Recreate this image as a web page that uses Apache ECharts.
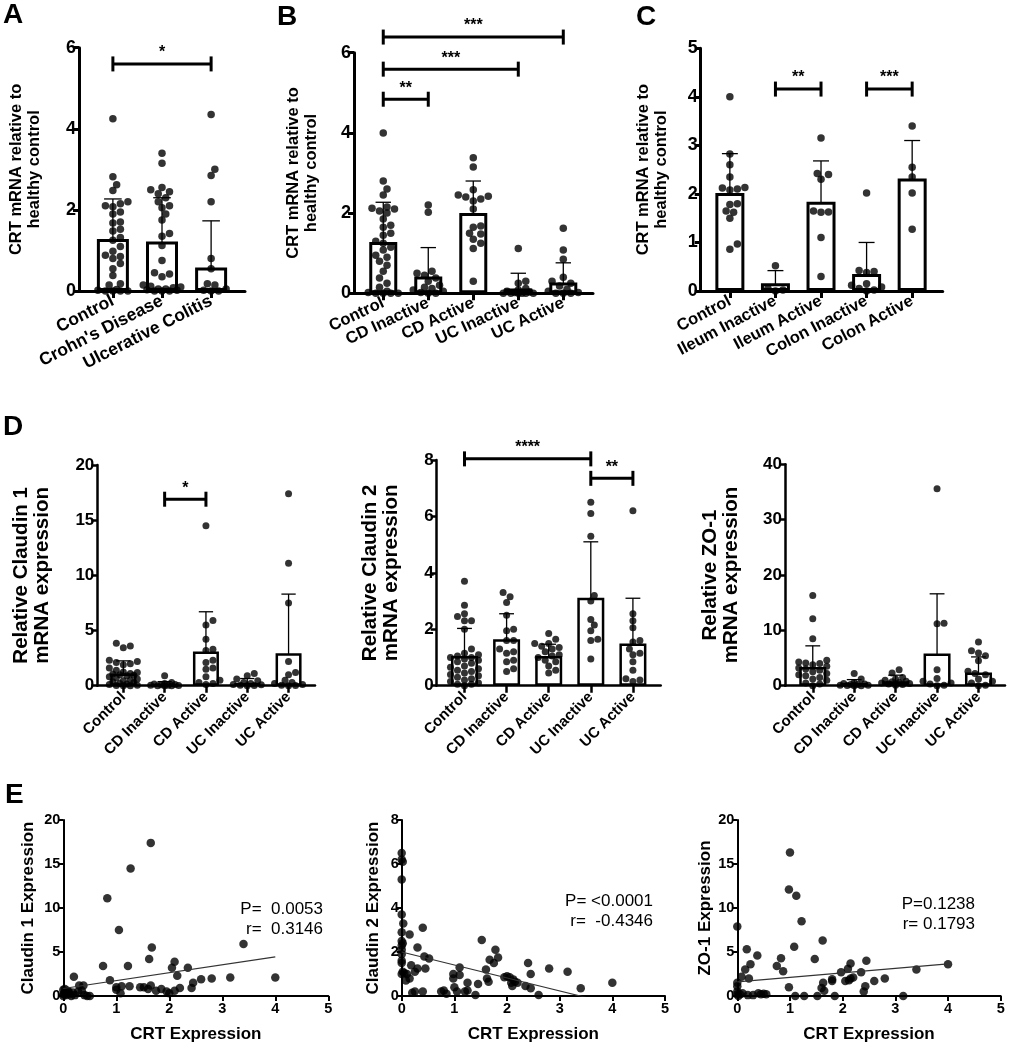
<!DOCTYPE html>
<html><head><meta charset="utf-8">
<script src="https://cdn.jsdelivr.net/npm/echarts@6/dist/echarts.min.js"></script>
<style>html,body{margin:0;padding:0;background:#fff}#c{width:1013px;height:1050px}</style>
</head><body><div id="c"></div>
<script>
// ---------------- DATA ----------------
const catsA = ['Control', "Crohn's Disease", 'Ulcerative Colitis'];
const catsB = ['Control', 'CD Inactive', 'CD Active', 'UC Inactive', 'UC Active'];
const catsC = ['Control', 'Ileum Inactive', 'Ileum Active', 'Colon Inactive', 'Colon Active'];
const catsD = ['Control', 'CD Inactive', 'CD Active', 'UC Inactive', 'UC Active'];

const aControl = [4.25,2.82,2.62,2.48,2.2,2.15,2.1,2.08,1.95,1.9,1.7,1.68,1.52,1.48,1.32,1.25,1.1,0.98,0.88,0.85,0.8,0.68,0.55,0.38,0.18,0.15,0.04,0.02,0,0,0,0];
const aCrohn = [3.4,3.15,2.55,2.5,2.45,2.4,2.3,2.2,2.1,2.05,1.9,1.75,1.42,1.35,1.12,0.75,0.45,0.42,0.35,0.15,0.12,0.1,0.08,0.05,0.05,0.03,0.02,0,0,0];
const aUC = [4.35,3.0,2.85,2.2,0.8,0.55,0.18,0.15,0.05,0.02,0,0];
const aMeans = [1.28,1.22,0.58];
const aSD = [0.99,1.08,1.15];
const aBrackets = [[1,3,5.6]];
const aStars = ['*'];

const bControl = [4.0,2.8,2.6,2.45,2.15,2.12,2.1,2.05,2.0,1.85,1.7,1.65,1.5,1.45,1.3,1.25,1.15,1.08,0.95,0.9,0.8,0.7,0.55,0.38,0.25,0.15,0.05,0.02,0,0,0,0];
const bCDi = [2.2,2.02,0.55,0.5,0.45,0.38,0.3,0.2,0.15,0.12,0.08,0.05,0.02,0,0];
const bCDa = [3.38,3.15,2.58,2.45,2.42,2.4,2.35,2.3,2.1,1.68,1.65,1.5,1.48,1.35,1.25,1.12,0.3];
const bUCi = [1.12,0.3,0.25,0.12,0.08,0.05,0.03,0.02,0,0,0,0,0,0];
const bUCa = [1.62,1.08,0.85,0.4,0.3,0.25,0.18,0.1,0.05,0.02,0,0,0];
const bMeans = [1.28,0.42,2.0,0.12,0.27];
const bSD = [0.99,0.72,0.8,0.38,0.49];
const bBrackets = [[1,5,6.39],[1,4,5.59],[1,2,4.84]];
const bStars = ['***','***','**'];

const cControl = [4.0,2.82,2.6,2.35,2.13,2.12,2.1,2.08,1.8,1.78,1.65,1.62,1.5,0.97,0.86];
const cIleumI = [0.52,0.05,0.02,0];
const cIleumA = [3.15,2.42,2.4,2.3,1.65,1.63,1.62,1.1,0.3];
const cColonI = [2.02,0.42,0.4,0.38,0.15,0.12,0.08,0.05,0.02,0];
const cColonA = [3.4,2.55,2.35,2.02,1.27];
const cMeans = [2.02,0.16,1.84,0.35,2.32];
const cSD = [0.81,0.26,0.84,0.65,0.78];
const cBrackets = [[2,3,4.16],[4,5,4.16]];
const cStars = ['**','***'];

const d1Control = [3.85,3.6,3.45,2.3,2.2,2.1,2.0,1.9,1.6,1.4,1.25,1.2,1.1,1.05,1.0,0.95,0.9,0.8,0.7,0.6,0.5,0.45,0.35,0.3,0.2,0.15,0.1,0.05,0.02,0,0];
const d1CDi = [0.9,0.3,0.2,0.15,0.1,0.08,0.05,0.03,0.02,0,0,0];
const d1CDa = [14.5,5.9,5.5,4.2,3.3,3.2,2.3,2.1,1.6,1.5,0.8,0.5,0.3,0.2,0.1];
const d1UCi = [1.1,0.9,0.6,0.45,0.3,0.2,0.12,0.08,0.05,0.02,0];
const d1UCa = [17.4,11.1,7.5,2.2,1.2,1.0,0.5,0.3,0.2,0.1,0.05,0.02,0];
const d1Means = [1.1,0.12,3.1,0.25,2.95];
const d1SD = [1.15,0.25,3.6,0.4,5.35];
const d1Brackets = [[2,3,16.9]];
const d1Stars = ['*'];

const d2Control = [3.7,2.85,2.55,2.45,2.3,2.3,2.0,1.3,1.15,1.1,1.05,1.0,1.0,0.95,0.9,0.85,0.8,0.7,0.65,0.6,0.55,0.5,0.45,0.4,0.35,0.3,0.25,0.2,0.15,0.1,0.05,0.05,0];
const d2CDi = [3.3,3.15,2.95,2.5,2.0,1.95,1.6,1.6,1.3,1.2,1.15,0.9,0.85,0.6,0.5];
const d2CDa = [1.85,1.65,1.5,1.5,1.4,1.35,1.3,1.2,1.1,1.05,1.0,0.9,0.85,0.7,0.55,0.45];
const d2UCi = [6.5,6.1,5.3,3.2,3.0,2.35,2.15,1.95,1.65,1.6,0.95];
const d2UCa = [6.2,2.55,2.3,2.05,1.6,1.55,1.3,1.15,1.1,0.85,0.55,0.25,0.2,0.15];
const d2Means = [1.05,1.65,1.05,3.12,1.5];
const d2SD = [0.98,0.9,0.42,1.98,1.6];
const d2Brackets = [[1,4,8.04],[4,5,7.35]];
const d2Stars = ['****','**'];

const d3Control = [16.3,12.1,8.5,4.6,4.3,4.1,4.0,3.8,3.5,3.2,3.0,2.8,2.5,2.2,2.0,1.8,1.5,1.2,1.0,0.5,0.3,0];
const d3CDi = [2.2,1.2,0.6,0.4,0.3,0.2,0.2,0.1,0.1,0.05,0,0];
const d3CDa = [2.9,2.3,1.5,1.2,1.0,0.8,0.7,0.6,0.5,0.4,0.3,0.2,0.1];
const d3UCi = [35.6,11.3,11.2,2.9,1.3,0.8,0.5,0.3,0.1,0];
const d3UCa = [7.9,6.3,5.9,5.4,4.5,2.6,2.2,2.0,1.2,0.8,0.5,0.1,0];
const d3Means = [3.4,0.5,0.8,5.8,2.4];
const d3SD = [3.8,0.6,1.1,10.8,2.8];

const e1Points = [[1.65,17.4],[1.27,14.5],[0.83,11.1],[1.05,7.5],[3.4,5.9],[1.67,5.5],[1.62,4.2],[0.75,3.4],[1.22,3.4],[2.1,3.9],[2.05,3.2],[2.35,3.2],[2.15,2.3],[0.2,2.2],[0.88,1.8],[2.6,1.9],[2.8,2.0],[3.15,2.1],[4.0,2.1],[2.45,1.5],[2.42,0.9],[0.3,1.2],[0.38,1.2],[0.35,0.6],[1.0,1.0],[1.0,0.7],[1.1,1.1],[1.08,0.3],[1.25,1.1],[1.45,1.0],[1.52,1.0],[1.6,0.8],[1.65,1.2],[1.75,0.6],[1.85,0.8],[1.95,0.5],[2.0,0.3],[2.1,0.6],[2.2,0.9],[0,0.7],[0.02,0.3],[0.05,0.1],[0.08,0.6],[0.1,0.5],[0.12,0.2],[0.15,0.0],[0.18,0.4],[0.22,0.1],[0.28,0.5],[0.4,0.1],[0.45,0.0],[0.5,0.0],[0,0],[0.03,0.8],[0,0.2]];
const e2Points = [[0,6.5],[0,6.2],[0.02,6.1],[0,5.3],[0,3.7],[0.03,3.3],[0,2.9],[0,2.5],[0,2.3],[0.02,2.4],[0,2.1],[0,1.9],[0,1.6],[0,1.5],[0.02,1.1],[0,1.0],[0.05,1.05],[0.1,1.0],[0.08,0.7],[0.15,0.8],[0.15,2.8],[0.18,1.4],[0.3,2.2],[0.25,1.1],[0.3,1.25],[0.2,0.15],[0.25,0.2],[0.4,3.1],[0.43,1.8],[0.45,1.25],[0.52,1.7],[0.4,0.2],[0.75,0.2],[0.8,0.25],[0.85,0.1],[0.98,1.0],[0.98,0.8],[1.0,0.4],[1.05,0.2],[1.1,1.3],[1.1,0.95],[1.2,0.2],[1.25,0.25],[1.25,0.6],[1.4,0.05],[1.45,0.55],[1.52,2.55],[1.6,1.2],[1.62,0.8],[1.65,0.65],[1.67,1.65],[1.75,1.5],[1.78,2.1],[1.83,1.75],[1.95,0.85],[2.0,0.9],[2.05,0.85],[2.08,0.6],[2.1,0.45],[2.12,0.75],[2.15,0.65],[2.2,0.6],[2.35,0.45],[2.4,1.5],[2.45,1.0],[2.45,0.35],[2.6,0.05],[2.8,1.25],[3.15,1.1],[3.4,0.35],[4.0,0.6]];
const e3Points = [[0,7.9],[0,1.5],[0,1.1],[0,0.5],[0,0.2],[0.02,0],[0.05,0.2],[0.08,2.2],[0.1,0.3],[0.15,3.0],[0.18,5.3],[0.2,0.1],[0.22,2.0],[0.25,3.6],[0.3,0.1],[0.38,4.6],[0.4,0.3],[0.45,0.2],[0.5,0.25],[0.55,0.2],[0.75,3.4],[0.83,4.3],[0.87,2.8],[0.98,1.0],[1.0,16.3],[0.98,12.1],[1.08,5.6],[1.12,11.4],[1.1,0],[1.22,8.5],[1.27,0],[1.47,4.2],[1.52,0],[1.6,0.9],[1.62,6.3],[1.63,1.5],[1.65,0.6],[1.8,1.9],[1.85,0],[1.8,1.7],[1.97,2.7],[2.05,1.7],[2.1,3.1],[2.12,1.8],[2.15,3.7],[2.15,2.0],[2.2,2.1],[2.35,2.7],[2.4,0.5],[2.43,1.1],[2.45,4.0],[2.6,1.7],[2.8,2.0],[3.15,0],[3.4,3.0],[4.0,3.6]];
const e1Reg = [[0,0.85],[4,4.45]];
const e2Reg = [[0,2.0],[4,-0.36]];
const e3Reg = [[0,1.6],[4,3.65]];
const e1Stats = ['P=  0.0053','r=  0.3146'];
const e2Stats = ['P= <0.0001','r=  -0.4346'];
const e3Stats = ['P=0.1238','r= 0.1793'];
const panelLetters = ['A','B','C','D','E'];

// ---------------- BUILD ----------------
const FONT = '"Liberation Sans", Arial, sans-serif';
const grids = [], xAxes = [], yAxes = [], series = [], graphics = [];

function swarm(vals, xc, pxX, pxY, d, halfW) {
  const sorted = vals.slice().sort((a, b) => a - b);
  const placed = [], out = [];
  const step = d * 0.5;
  const nmax = Math.max(1, Math.floor(halfW / step));
  for (const v of sorted) {
    const py = v * pxY;
    let chosen = null, bestOff = 0, bestDist = -1;
    for (let k = 0; k <= 2 * nmax; k++) {
      const off = (k === 0 ? 0 : (k % 2 === 1 ? 1 : -1) * Math.ceil(k / 2)) * step;
      let md = Infinity;
      for (const q of placed) { const dd = Math.hypot(q[0] - off, q[1] - py); if (dd < md) md = dd; }
      if (md >= d * 0.9) { chosen = off; break; }
      if (md > bestDist) { bestDist = md; bestOff = off; }
    }
    if (chosen === null) chosen = bestOff;
    placed.push([chosen, py]);
    out.push([xc + chosen / pxX, v]);
  }
  return out;
}

function errRender(capW, lw) {
  return function (params, api) {
    const x = api.value(0), m = api.value(1), s = api.value(2);
    const top = api.coord([x, m + s]);
    const lo = Math.max(0, m - s);
    const bot = api.coord([x, lo]);
    const st = { stroke: '#000', lineWidth: lw };
    const ch = [
      { type: 'line', shape: { x1: top[0], y1: top[1], x2: bot[0], y2: bot[1] }, style: st },
      { type: 'line', shape: { x1: top[0] - capW / 2, y1: top[1], x2: top[0] + capW / 2, y2: top[1] }, style: st }
    ];
    if (m - s > 0) ch.push({ type: 'line', shape: { x1: bot[0] - capW / 2, y1: bot[1], x2: bot[0] + capW / 2, y2: bot[1] }, style: st });
    return { type: 'group', children: ch };
  };
}

function bracketRender(labels, starFont) {
  return function (params, api) {
    const a = api.coord([api.value(0), api.value(2)]);
    const b = api.coord([api.value(1), api.value(2)]);
    const h = 7.5;
    const st = { stroke: '#000', lineWidth: 3 };
    return {
      type: 'group', children: [
        { type: 'line', shape: { x1: a[0], y1: a[1], x2: b[0], y2: b[1] }, style: st },
        { type: 'line', shape: { x1: a[0], y1: a[1] - h, x2: a[0], y2: a[1] + h }, style: st },
        { type: 'line', shape: { x1: b[0], y1: b[1] - h, x2: b[0], y2: b[1] + h }, style: st },
        { type: 'text', x: (a[0] + b[0]) / 2, y: a[1] - 3, style: { text: labels[params.dataIndex], font: starFont, fill: '#000', align: 'center', verticalAlign: 'bottom', textAlign: 'center', textVerticalAlign: 'bottom' } }
      ]
    };
  };
}

function addBarPanel(p) {
  const gi = grids.length;
  grids.push({ left: p.grid[0], top: p.grid[1], width: p.grid[2], height: p.grid[3] });
  const idx = p.cats.map((c, i) => i + 1);
  const ls = { color: '#000', width: p.aw };
  xAxes.push({
    gridIndex: gi, type: 'value', min: p.xr[0], max: p.xr[1], splitLine: { show: false },
    axisLine: { show: true, onZero: false, lineStyle: ls },
    axisTick: { show: true, customValues: idx, length: 7, lineStyle: ls },
    axisLabel: { customValues: idx, formatter: v => p.cats[Math.round(v) - 1], rotate: p.rot, color: '#000', fontFamily: FONT, fontWeight: 'bold', fontSize: p.lf, margin: 9 }
  });
  yAxes.push({
    gridIndex: gi, type: 'value', min: 0, max: p.ymax, interval: p.yint, splitLine: { show: false },
    axisLine: { show: true, lineStyle: ls }, axisTick: { show: true, length: 6, lineStyle: ls },
    axisLabel: { color: '#000', fontFamily: FONT, fontWeight: 'bold', fontSize: p.tf, margin: 3 },
    name: p.name, nameLocation: 'middle', nameGap: p.ng, nameRotate: 90,
    nameTextStyle: { color: '#000', fontFamily: FONT, fontWeight: 'bold', fontSize: p.nf, lineHeight: p.nlh }
  });
  series.push({ type: 'bar', xAxisIndex: gi, yAxisIndex: gi, data: idx.map((x, i) => [x, p.means[i]]), barWidth: p.bw,
    itemStyle: { color: '#fff', borderColor: '#000', borderWidth: p.bb }, silent: true });
  series.push({ type: 'custom', xAxisIndex: gi, yAxisIndex: gi, clip: false, renderItem: errRender(p.bw * 0.55, 1.3),
    data: idx.map((x, i) => [x, p.means[i], p.sds[i]]), encode: { x: 0, y: 1 }, silent: true });
  const pxX = p.grid[2] / (p.xr[1] - p.xr[0]), pxY = p.grid[3] / p.ymax;
  const pts = [];
  p.pts.forEach((arr, i) => swarm(arr, i + 1, pxX, pxY, p.ds, p.bw * 0.62).forEach(q => pts.push(q)));
  series.push({ type: 'scatter', xAxisIndex: gi, yAxisIndex: gi, data: pts, symbolSize: p.ds, itemStyle: { color: '#000' }, clip: false, silent: true });
  if (p.br) series.push({ type: 'custom', xAxisIndex: gi, yAxisIndex: gi, clip: false, renderItem: bracketRender(p.stars, 'bold 16px ' + FONT),
    data: p.br, encode: { x: [0, 1], y: 2 }, silent: true });
}

function addScatterPanel(p) {
  const gi = grids.length;
  grids.push({ left: p.grid[0], top: p.grid[1], width: p.grid[2], height: p.grid[3] });
  const ls = { color: '#000', width: 2 };
  xAxes.push({
    gridIndex: gi, type: 'value', min: 0, max: 5, interval: 1, splitLine: { show: false },
    axisLine: { show: true, onZero: false, lineStyle: ls }, axisTick: { show: true, length: 5, lineStyle: ls },
    axisLabel: { color: '#000', fontFamily: FONT, fontWeight: 'bold', fontSize: 14.5, margin: 5 },
    name: 'CRT Expression', nameLocation: 'middle', nameGap: 30,
    nameTextStyle: { color: '#000', fontFamily: FONT, fontWeight: 'bold', fontSize: 17 }
  });
  yAxes.push({
    gridIndex: gi, type: 'value', min: 0, max: p.ymax, interval: p.yint, splitLine: { show: false },
    axisLine: { show: true, lineStyle: ls }, axisTick: { show: true, length: 5, lineStyle: ls },
    axisLabel: { color: '#000', fontFamily: FONT, fontWeight: 'bold', fontSize: 14.5, margin: 3 },
    name: p.name, nameLocation: 'middle', nameGap: p.ng, nameRotate: 90,
    nameTextStyle: { color: '#000', fontFamily: FONT, fontWeight: 'bold', fontSize: 17 }
  });
  series.push({ type: 'line', xAxisIndex: gi, yAxisIndex: gi, data: p.reg, symbol: 'none', clip: true,
    lineStyle: { color: '#333', width: 1.1 }, silent: true, z: 3 });
  series.push({ type: 'scatter', xAxisIndex: gi, yAxisIndex: gi, data: p.pts, symbolSize: 8.5, itemStyle: { color: '#000' }, clip: false, silent: true, z: 2 });
  graphics.push({ type: 'text', x: p.statPos[0], y: p.statPos[1],
    style: { text: p.stats.join('\n'), font: '17px ' + FONT, fill: '#000', lineHeight: 20, align: 'right', verticalAlign: 'top', textAlign: 'right', textVerticalAlign: 'top' } });
}

addBarPanel({ grid: [79, 47.7, 166, 243.3], xr: [0.31, 3.69], ymax: 6, yint: 2, cats: catsA,
  pts: [aControl, aCrohn, aUC], means: aMeans, sds: aSD, br: aBrackets, stars: aStars,
  bw: 32, bb: 3, aw: 3, ds: 7.5, rot: 27, lf: 17.5, tf: 18, nf: 16.5, nlh: 18, ng: 36,
  name: 'CRT mRNA relative to\nhealthy control' });
addBarPanel({ grid: [354, 52.7, 239, 240.6], xr: [0.35, 5.66], ymax: 6, yint: 2, cats: catsB,
  pts: [bControl, bCDi, bCDa, bUCi, bUCa], means: bMeans, sds: bSD, br: bBrackets, stars: bStars,
  bw: 28, bb: 3, aw: 3, ds: 7.5, rot: 25, lf: 16.5, tf: 18, nf: 16.5, nlh: 18, ng: 34,
  name: 'CRT mRNA relative to\nhealthy control' });
addBarPanel({ grid: [700.7, 48.3, 242, 242.7], xr: [0.36, 5.67], ymax: 5, yint: 1, cats: catsC,
  pts: [cControl, cIleumI, cIleumA, cColonI, cColonA], means: cMeans, sds: cSD, br: cBrackets, stars: cStars,
  bw: 29, bb: 3, aw: 3, ds: 7.5, rot: 28, lf: 16.5, tf: 18, nf: 16.5, nlh: 18, ng: 30,
  name: 'CRT mRNA relative to\nhealthy control' });
addBarPanel({ grid: [97.3, 465, 217.7, 220.7], xr: [0.37, 5.64], ymax: 20, yint: 5, cats: catsD,
  pts: [d1Control, d1CDi, d1CDa, d1UCi, d1UCa], means: d1Means, sds: d1SD, br: d1Brackets, stars: d1Stars,
  bw: 26, bb: 2.5, aw: 2.5, ds: 7, rot: 45, lf: 15, tf: 17, nf: 20.5, nlh: 21, ng: 44,
  name: 'Relative Claudin 1\nmRNA expression' });
addBarPanel({ grid: [436.7, 460, 224, 225.7], xr: [0.34, 5.66], ymax: 8, yint: 2, cats: catsD,
  pts: [d2Control, d2CDi, d2CDa, d2UCi, d2UCa], means: d2Means, sds: d2SD, br: d2Brackets, stars: d2Stars,
  bw: 27, bb: 2.5, aw: 2.5, ds: 7, rot: 45, lf: 15, tf: 17, nf: 20.5, nlh: 21, ng: 35,
  name: 'Relative Claudin 2\nmRNA expression' });
addBarPanel({ grid: [785, 464.3, 220, 221.4], xr: [0.33, 5.64], ymax: 40, yint: 10, cats: catsD,
  pts: [d3Control, d3CDi, d3CDa, d3UCi, d3UCa], means: d3Means, sds: d3SD, br: null, stars: [],
  bw: 27, bb: 2.5, aw: 2.5, ds: 7, rot: 45, lf: 15, tf: 17, nf: 20.5, nlh: 21, ng: 43,
  name: 'Relative ZO-1\nmRNA expression' });
addScatterPanel({ grid: [63.3, 820, 265, 176], ymax: 20, yint: 5, pts: e1Points, reg: e1Reg, stats: e1Stats,
  statPos: [323, 899], name: 'Claudin 1 Expression', ng: 26 });
addScatterPanel({ grid: [401.7, 820, 263.3, 176], ymax: 8, yint: 2, pts: e2Points, reg: e2Reg, stats: e2Stats,
  statPos: [653, 891], name: 'Claudin 2 Expression', ng: 20 });
addScatterPanel({ grid: [737.3, 820, 263.4, 176], ymax: 20, yint: 5, pts: e3Points, reg: e3Reg, stats: e3Stats,
  statPos: [975, 894], name: 'ZO-1 Expression', ng: 17 });

const letterPos = [[3, 1], [277, 3], [636, 3], [3, 413], [5, 781]];
panelLetters.forEach((t, i) => graphics.push({ type: 'text', x: letterPos[i][0], y: letterPos[i][1],
  style: { text: t, font: 'bold 28px ' + FONT, fill: '#000', align: 'left', verticalAlign: 'top', textAlign: 'left', textVerticalAlign: 'top' } }));

const chart = echarts.init(document.getElementById('c'), null, { renderer: 'canvas' });
chart.setOption({
  animation: false, backgroundColor: '#fff',
  grid: grids, xAxis: xAxes, yAxis: yAxes, series: series, graphic: graphics
});
</script></body></html>
